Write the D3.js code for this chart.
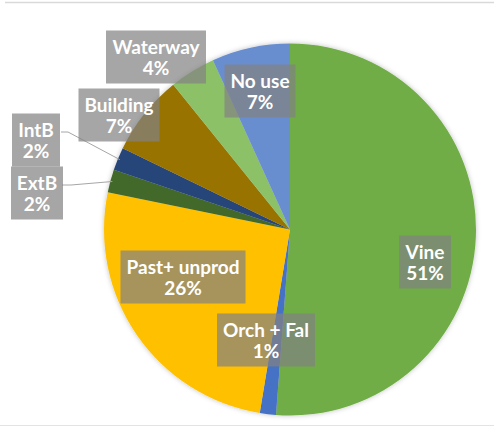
<!DOCTYPE html>
<html>
<head>
<meta charset="utf-8">
<script src="https://cdn.jsdelivr.net/npm/d3@7"></script>
<style>
  body { margin: 0; background: #fff; }
  svg { display: block; }
</style>
</head>
<body>
<svg id="chart" width="494" height="427"></svg>
<script>
// data, clockwise from 12 o'clock
var categories = ['Vine', 'Orch + Fal', 'Past+ unprod', 'ExtB', 'IntB', 'Building', 'Waterway', 'No use'];
var shares = [51.2, 1.4, 25.6, 2, 2, 7, 4, 6.8];
var pctLabels = ['51%', '1%', '26%', '2%', '2%', '7%', '4%', '7%'];
var colors = ['#70AD47', '#4472C4', '#FFC000', '#43682B', '#264478', '#997300', '#8CC168', '#698ED0'];

// where Excel put the label boxes (centre points)
var labelPos = [[425, 262], [266, 340], [183, 277], [37, 193], [36, 140], [119, 115], [156, 57], [260, 91]];
// leader lines for the small slices: label index -> elbow
var leaders = {3: 71, 4: 68};

var w = 494, h = 427;
var cx = 290, cy = 229.5, r = 186;

var svg = d3.select('#chart');

// frame lines top & bottom
svg.append('line').attr('x1', 5).attr('x2', w).attr('y1', 2.5).attr('y2', 2.5)
  .attr('stroke', '#d9d9d9').attr('stroke-width', 1.5);
svg.append('line').attr('x1', 0).attr('x2', w).attr('y1', 425.5).attr('y2', 425.5)
  .attr('stroke', '#e3e3e3').attr('stroke-width', 1);

var defs = svg.append('defs');
var f = defs.append('filter').attr('id', 'shadow').attr('x', '-10%').attr('y', '-10%')
  .attr('width', '120%').attr('height', '120%');
f.append('feDropShadow').attr('dx', 0).attr('dy', 0).attr('stdDeviation', 2.5)
  .attr('flood-color', '#000').attr('flood-opacity', 0.25);

var pie = d3.pie().sort(null).value(function(d) { return d; });
var arcs = pie(shares);
var arc = d3.arc().innerRadius(0).outerRadius(r);

var g = svg.append('g').attr('transform', 'translate(' + cx + ',' + cy + ')')
  .attr('filter', 'url(#shadow)');

g.selectAll('path').data(arcs).enter().append('path')
  .attr('d', arc)
  .attr('fill', function(d, i) { return colors[i]; });

// leader lines
var outer = d3.arc().innerRadius(r).outerRadius(r);
Object.keys(leaders).forEach(function(k) {
  var i = +k;
  var a = arcs[i];
  var mid = (a.startAngle + a.endAngle) / 2;
  var px = cx + Math.sin(mid) * (r - 2), py = cy - Math.cos(mid) * (r - 2);
  var lx = labelPos[i][0] + 25, ly = labelPos[i][1] - 8;
  svg.append('polyline')
    .attr('points', [[lx, ly], [leaders[k], ly], [px, py]].map(function(p) { return p.join(','); }).join(' '))
    .attr('fill', 'none').attr('stroke', '#a6a6a6').attr('stroke-width', 1);
});

// label boxes
var labels = svg.append('g');
categories.forEach(function(c, i) {
  var lg = labels.append('g').attr('transform', 'translate(' + labelPos[i][0] + ',' + labelPos[i][1] + ')');
  var box = lg.append('rect').attr('fill', '#828282').attr('fill-opacity', 0.71);
  var t = lg.append('text')
    .attr('text-anchor', 'middle')
    .attr('font-family', 'Lato, sans-serif')
    .attr('font-weight', 'bold')
    .attr('font-size', 19)
    .attr('fill', '#fff');
  t.append('tspan').attr('x', 0).attr('y', -3.5).text(c);
  t.append('tspan').attr('x', 0).attr('y', 17.5).text(pctLabels[i]);
  var bb = t.node().getBBox();
  var bw = Math.round(bb.width + 12);
  box.attr('x', -bw / 2).attr('y', -26.5).attr('width', bw).attr('height', 53);
});
</script>
</body>
</html>
